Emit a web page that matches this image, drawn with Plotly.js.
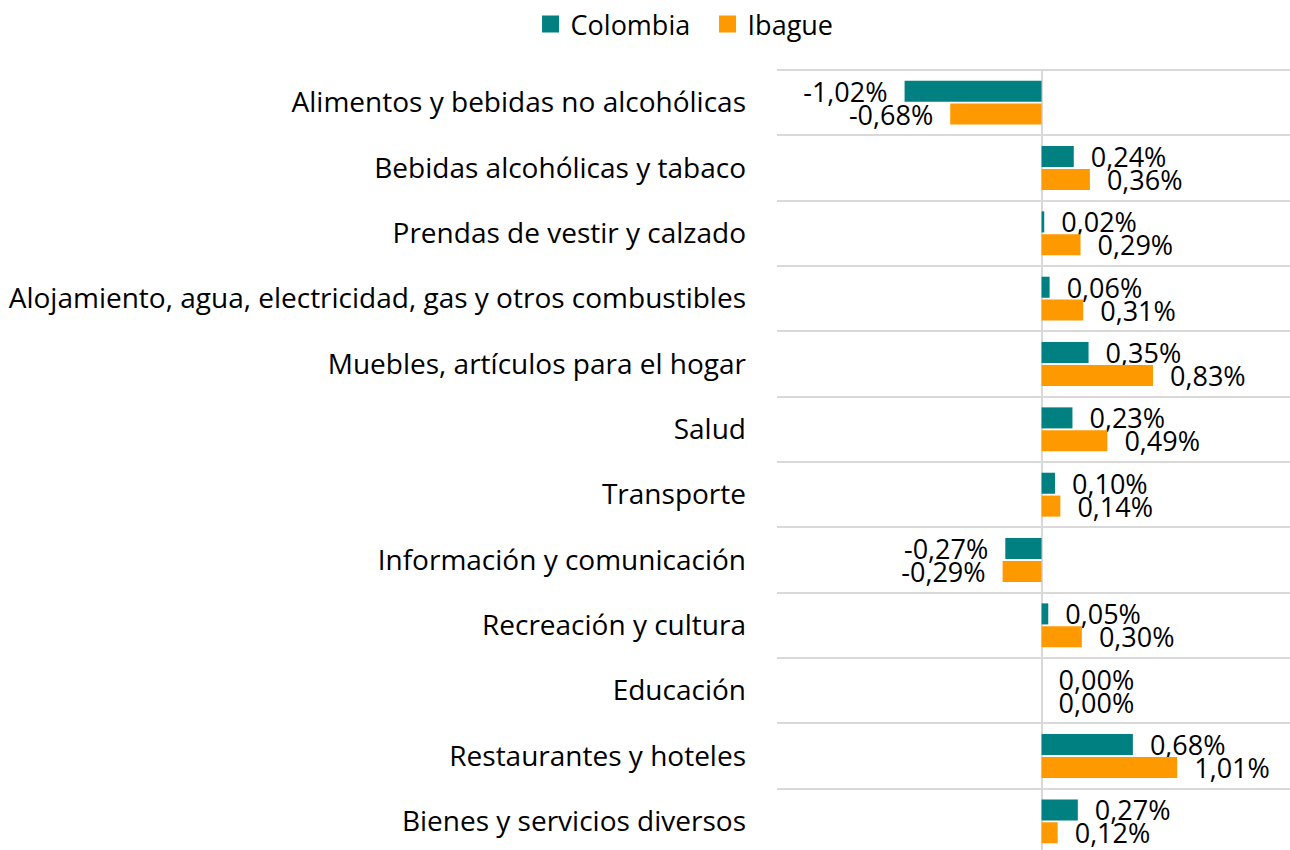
<!DOCTYPE html>
<html>
<head>
<meta charset="utf-8">
<script src="https://cdn.plot.ly/plotly-3.0.1.min.js"></script>
<style>html,body{margin:0;padding:0;background:#fff;overflow:hidden;}</style>
</head>
<body>
<div id="chart" style="width:1290px;height:854px;"></div>
<script>
const categories = [
  "Alimentos y bebidas no alcohólicas",
  "Bebidas alcohólicas y tabaco",
  "Prendas de vestir y calzado",
  "Alojamiento, agua, electricidad, gas y otros combustibles",
  "Muebles, artículos para el hogar",
  "Salud",
  "Transporte",
  "Información y comunicación",
  "Recreación y cultura",
  "Educación",
  "Restaurantes y hoteles",
  "Bienes y servicios diversos"
];
const colombia = [-1.02, 0.24, 0.02, 0.06, 0.35, 0.23, 0.10, -0.27, 0.05, 0.00, 0.68, 0.27];
const ibague   = [-0.68, 0.36, 0.29, 0.31, 0.83, 0.49, 0.14, -0.29, 0.30, 0.00, 1.01, 0.12];

const fontFam = "'Open Sans', 'Noto Sans', sans-serif";
const pad = "\u00a0\u00a0";
function trace(name, vals, color) {
  return {
    type: "bar", orientation: "h", name: name,
    y: categories, x: vals,
    marker: {color: color, line: {width: 0}},
    texttemplate: pad + "%{x:.2f}%" + pad,
    textposition: "outside",
    constraintext: "none",
    cliponaxis: false,
    textfont: {family: fontFam, size: 27, color: "#000"},
    hoverinfo: "x+y"
  };
}
const data = [trace("Colombia", colombia, "#008080"), trace("Ibague", ibague, "#FF9900")];
const layout = {
  width: 1290, height: 854,
  margin: {l: 777, r: 0, t: 70, b: 0, pad: 0},
  separators: ",.",
  barmode: "group",
  bargap: 0.3, bargroupgap: 0.08,
  paper_bgcolor: "#fff", plot_bgcolor: "#fff",
  font: {family: fontFam, size: 27, color: "#000"},
  showlegend: true,
  legend: {orientation: "h", xref: "container", yref: "container", x: 0.5485, xanchor: "center", y: 1, yanchor: "top",
           entrywidth: 132, entrywidthmode: "pixels",
           font: {family: fontFam, size: 27, color: "#000"}, traceorder: "normal"},
  xaxis: {range: [-1.97, 1.85], showgrid: false, showticklabels: false, ticks: "",
          zeroline: true, zerolinecolor: "#d9d9d9", zerolinewidth: 2, fixedrange: true},
  yaxis: {type: "category", autorange: "reversed", tickson: "boundaries", showgrid: true,
          gridcolor: "#d9d9d9", gridwidth: 2, ticks: "", ticklabelstandoff: 30,
          tickfont: {family: fontFam, size: 28, color: "#000"}, automargin: false, showline: false},
  shapes: [{type: "line", xref: "paper", yref: "paper", x0: 0, x1: 1, y0: 1, y1: 1,
            line: {color: "#d9d9d9", width: 2}, layer: "below"}]
};
Plotly.newPlot("chart", data, layout, {displayModeBar: false, staticPlot: true}).then(function () {
  document.querySelectorAll("#chart .legendpoints path").forEach(function (p) {
    p.setAttribute("d", "M8.5,8.5H-8.5V-8.5H8.5Z");
  });
});
</script>
</body>
</html>
